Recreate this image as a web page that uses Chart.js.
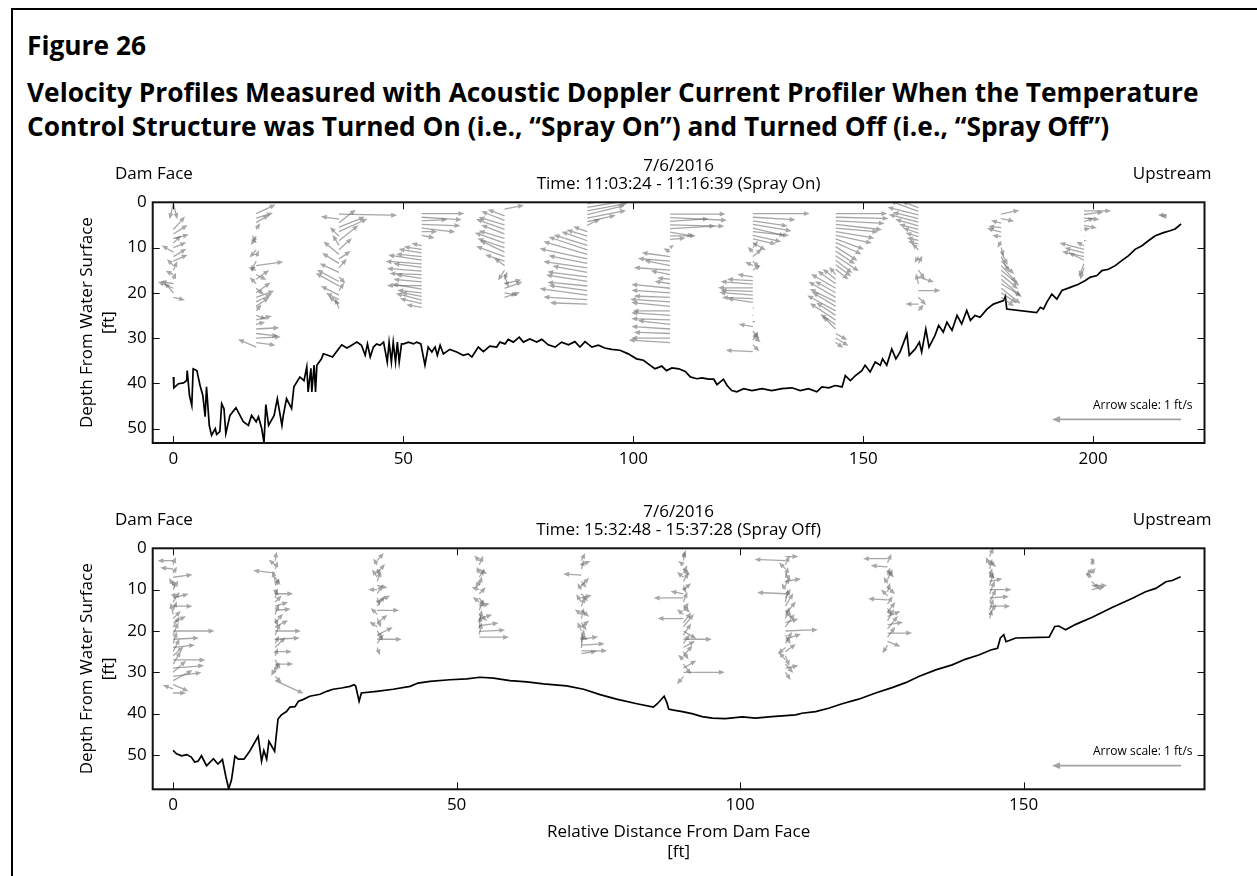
<!DOCTYPE html>
<html>
<head>
<meta charset="utf-8">
<title>Figure 26</title>
<script src="https://cdn.jsdelivr.net/npm/chart.js@4.4.0/dist/chart.umd.min.js"></script>
<style>
    body { margin: 0; width: 1257px; height: 876px; background: #fff; overflow: hidden; font-family: 'Open Sans', sans-serif; color: #000; }
    #frame { position: absolute; left: 11px; top: 8px; width: 1300px; height: 900px; border-left: 2px solid #000; border-top: 2px solid #000; }
    .ttl { position: absolute; left: 27px; font-weight: bold; font-size: 26.3px; line-height: 26.3px; white-space: nowrap; }
    canvas { position: absolute; left: 0; }
</style>
</head>
<body>
<div id="frame"></div>
<div class="ttl" style="top:32px">Figure 26</div>
<div class="ttl" style="top:79px">Velocity Profiles Measured with Acoustic Doppler Current Profiler When the Temperature</div>
<div class="ttl" style="top:113px">Control Structure was Turned On (i.e., “Spray On”) and Turned Off (i.e., “Spray Off”)</div>
<canvas id="sprayOn" width="1257" height="340" style="top:140px"></canvas>
<canvas id="sprayOff" width="1257" height="396" style="top:480px"></canvas>
<script>
// ---- 上图：Spray On，河床深度剖面 ----
const onBedX = [0, 0.1, 1.1, 2.2, 2.9, 3.0, 3.5, 4.0, 4.3, 5.1, 5.8, 6.4, 6.9, 7.2, 7.8, 8.3, 9.1, 9.4, 10.1, 10.5,
    11.0, 11.4, 12.3, 13.6, 15.2, 16.3, 17.0, 18.0, 18.5, 19.2, 19.7, 20.1, 20.7, 21.9, 22.6, 23.6, 23.9, 24.6, 25.7, 26.2,
    27.5, 28.4, 29.0, 29.3, 29.9, 30.1, 30.6, 30.9, 31.2, 32.2, 32.6, 33.3, 34.6, 35.9, 36.6, 37.7, 38.4, 39.9, 40.9, 41.7,
    42.2, 42.8, 43.5, 44.2, 44.9, 45.7, 46.5, 46.9, 47.4, 47.8, 48.3, 48.7, 49.1, 49.6, 50.1, 51.1, 52.2, 52.9, 53.8, 54.7,
    55.4, 56.2, 56.9, 57.4, 58.0, 58.7, 60.1, 61.6, 63.0, 64.1, 64.9, 66.3, 67.4, 68.8, 70.3, 71.0, 72.1, 72.8, 73.9, 75.2,
    76.1, 77.5, 79.0, 80.1, 81.5, 83.0, 84.4, 85.9, 87.3, 88.4, 89.5, 91.0, 92.4, 93.8, 95.3, 97.1, 98.9, 100.7, 102.2, 103.6,
    104.7, 106.2, 107.2, 108.4, 109.9, 111.3, 112.4, 113.8, 114.9, 116.4, 117.5, 118.2, 119.6, 120.4, 121.4, 122.5, 124.0, 125.8, 128.0, 130.1,
    132.3, 134.5, 136.3, 138.1, 139.9, 141.0, 142.5, 143.9, 145.4, 146.1, 147.2, 148.3, 149.7, 150.4, 151.5, 152.6, 153.7, 154.2, 155.1, 156.2,
    157.1, 158.0, 159.5, 160.0, 161.3, 162.2, 162.7, 163.6, 164.3, 165.6, 166.4, 167.4, 168.2, 169.3, 170.4, 171.4, 172.5, 173.3, 174.3, 175.4,
    176.9, 178.3, 180.5, 180.9, 181.2, 187.7, 188.5, 189.2, 189.9, 191.0, 192.1, 193.2, 195.0, 196.8, 198.3, 199.3, 200.8, 201.9, 203.3, 204.8,
    206.2, 207.7, 209.1, 210.6, 212.0, 213.5, 215.3, 216.7, 217.8, 219.1];
const onBedDepth = [38.6, 41.0, 40.1, 39.9, 39.4, 37.2, 42.7, 44.9, 36.8, 37.2, 40.5, 42.7, 47.4, 40.8, 49.3, 51.5, 50.0, 51.3, 50.7, 44.5,
    45.6, 51.1, 47.1, 45.4, 48.5, 49.3, 47.1, 48.5, 47.4, 50.0, 53.1, 44.7, 49.3, 47.1, 43.4, 49.3, 47.1, 43.4, 45.6, 40.8,
    38.6, 39.4, 36.4, 41.9, 36.7, 41.9, 36.0, 41.9, 36.0, 34.6, 33.5, 33.7, 34.2, 32.4, 31.5, 32.2, 31.8, 30.9, 31.6, 33.8,
    31.3, 34.2, 32.0, 31.3, 31.6, 30.9, 35.3, 30.9, 35.3, 30.9, 35.3, 30.9, 35.3, 31.3, 31.3, 30.9, 31.3, 30.9, 31.3, 36.0,
    32.0, 33.1, 32.0, 33.8, 31.6, 33.5, 32.5, 33.1, 33.8, 33.5, 34.2, 32.0, 33.0, 31.8, 32.0, 30.9, 31.3, 30.3, 30.9, 29.8,
    30.9, 30.2, 30.9, 30.3, 31.5, 32.0, 30.9, 31.5, 30.8, 32.0, 30.8, 32.0, 31.6, 32.2, 32.5, 32.7, 33.5, 34.6, 34.9, 36.0,
    36.8, 36.2, 37.2, 36.6, 36.8, 37.4, 38.6, 39.0, 38.8, 39.1, 39.1, 40.3, 39.1, 40.5, 41.6, 41.9, 41.2, 41.6, 41.2, 41.6,
    41.2, 41.0, 41.6, 41.2, 41.9, 40.8, 41.0, 40.5, 40.8, 38.3, 39.4, 38.3, 37.2, 36.0, 37.5, 35.3, 36.0, 34.6, 36.0, 32.4,
    34.6, 33.1, 29.1, 33.8, 32.4, 30.9, 33.1, 28.0, 32.0, 29.4, 27.2, 28.7, 26.5, 28.3, 25.0, 26.9, 23.9, 26.1, 25.0, 25.4,
    23.6, 22.5, 21.7, 20.8, 23.6, 24.4, 23.2, 23.6, 22.1, 20.3, 21.4, 19.5, 18.8, 18.1, 17.3, 16.6, 16.2, 15.1, 14.8, 14.0,
    12.9, 11.8, 10.4, 9.6, 8.5, 7.4, 6.7, 6.3, 5.9, 4.8];

// ---- 下图：Spray Off，河床深度剖面 ----
const offBedX = [0, 0.6, 1.5, 2.4, 3.2, 3.8, 4.4, 5.0, 5.9, 7.1, 7.9, 8.7, 9.3, 9.8, 10.3, 10.9, 11.5, 12.5, 13.5, 15.0,
    15.6, 16.0, 16.5, 16.9, 17.9, 18.5, 19.1, 20.0, 20.6, 21.5, 22.1, 22.9, 24.1, 25.9, 27.1, 28.2, 29.7, 31.2, 31.9, 32.2,
    32.8, 33.2, 35.9, 38.8, 41.8, 43.2, 45.3, 48.8, 51.8, 54.1, 56.5, 59.4, 62.4, 65.3, 69.4, 72.4, 75.3, 78.2, 81.8, 84.7,
    85.4, 86.6, 87.1, 87.4, 88.0, 89.8, 91.5, 93.3, 95.1, 97.4, 100.4, 102.7, 105.6, 109.8, 110.9, 113.3, 115.6, 118.0, 120.9, 123.9,
    126.8, 129.2, 131.5, 134.5, 137.4, 139.8, 142.1, 144.2, 145.4, 145.9, 146.5, 146.9, 148.6, 154.5, 155.5, 156.2, 157.4, 159.2, 162.1, 165.6,
    169.2, 171.5, 173.3, 175.1, 176.2, 177.7];
const offBedDepth = [48.9, 49.7, 50.2, 49.9, 50.5, 51.7, 51.5, 50.2, 52.6, 50.9, 52.2, 51.1, 55.2, 58.2, 56.0, 50.3, 51.0, 51.0, 49.1, 45.5,
    51.5, 48.9, 51.0, 46.7, 49.1, 41.3, 40.3, 39.5, 38.4, 38.3, 37.0, 36.6, 35.8, 35.3, 34.6, 34.1, 33.8, 33.4, 33.0, 33.3,
    37.0, 35.0, 34.6, 34.1, 33.4, 32.6, 32.2, 31.8, 31.6, 31.2, 31.4, 32.0, 32.3, 32.8, 33.3, 34.1, 35.4, 36.5, 37.6, 38.4,
    37.6, 35.8, 37.4, 38.9, 39.1, 39.5, 40.0, 40.7, 41.1, 41.2, 40.8, 41.1, 40.7, 40.3, 39.9, 39.5, 38.7, 37.6, 36.5, 35.0,
    33.7, 32.5, 31.0, 29.4, 28.2, 26.8, 25.8, 24.6, 24.2, 21.7, 20.9, 22.6, 21.7, 21.5, 18.9, 18.8, 19.7, 18.4, 16.7, 14.3,
    12.1, 10.5, 9.7, 8.1, 7.8, 6.9];

// ---- 流速矢量（ft/s）：u 为水平分量，w 为竖直分量（向上为正）----
const onColX = [0, 18, 36, 54, 72, 90, 108, 126, 144, 162, 180, 198, 216];
const onArrowDepth = [
    [0.3, 0.3, 6, 7, 8, 9, 10, 11, 12, 13, 14, 15, 16, 17, 18, 19, 20, 21],
    [2.5, 3.5, 4.5, 6, 7.5, 9, 10.5, 12, 13, 14, 15, 16, 17, 18, 19, 20, 21, 22, 23, 24, 25, 26, 27, 28, 29, 30, 31, 32],
    [2.6, 3.7, 4.5, 5.5, 6.5, 7.5, 8.5, 9.5, 10.5, 11.5, 12.5, 13.5, 14.5, 15.5, 16.5, 17.5, 18.5, 19.5, 20.5, 21.5, 22.5, 23.5],
    [2.5, 3.3, 4.1, 4.9, 5.7, 6.5, 7.3, 9.6, 10.4, 11.2, 12, 12.8, 13.6, 14.4, 15.2, 16, 16.8, 17.6, 18.4, 19.2, 20, 20.8, 21.6, 22.4, 23.2],
    [1.5, 3, 4, 5, 6, 7, 8, 9, 10, 11, 12, 13, 14, 15, 16, 17, 18, 19, 20, 21],
    [0.3, 1.1, 1.9, 2.7, 3.5, 4.3, 5.1, 6.5, 7.5, 8.5, 9.5, 10.5, 11.5, 12.5, 13.5, 14.5, 15.5, 16.5, 17.5, 18.5, 19.5, 20.5, 21.5, 22.5],
    [2.6, 3.4, 4.2, 5, 5.8, 6.6, 7.4, 8.2, 10, 11, 12, 13, 14, 15, 16, 17, 18, 19, 20, 21, 22, 23, 24, 25, 26, 27, 28, 29, 30, 31],
    [2.5, 3.3, 4.1, 4.9, 5.7, 6.5, 7.3, 8.1, 8.9, 10, 11, 12, 13, 14, 15, 16.5, 17.3, 18.1, 18.9, 19.7, 20.5, 21.3, 22.1, 23.5, 25, 26.5, 27.5, 28.5, 29.5, 30.5, 31.5, 33],
    [2.5, 3.3, 4.1, 4.9, 5.7, 6.5, 7.3, 8.1, 8.9, 9.8, 10.8, 11.8, 12.8, 13.8, 14.8, 16, 17, 18, 19, 20, 21, 22, 23, 24, 25, 26, 27, 28, 29, 30, 31],
    [1.2, 2, 2.8, 3.6, 4.4, 5.2, 6, 6.8, 7.6, 8.4, 9.2, 10.5, 12, 13.5, 15, 16.5, 18, 19.5, 21, 22.5, 24],
    [2.6, 3.6, 4.6, 5.6, 6.6, 7.6, 8.6, 10, 11, 12, 13, 14, 15, 16, 17, 18, 19, 20, 21],
    [1.9, 2.7, 3.5, 4.3, 5.1, 6, 7.5, 8.5, 9.6, 10.4, 11.2, 12, 12.8, 13.6, 14.5],
    [2.8, 3.2]
];
const onArrowU = [
    [0.03, -0.03, 0.09, 0.11, 0.12, 0.06, 0.1, -0.09, 0.1, 0.11, -0.05, 0.03, -0.06, 0.02, -0.1, -0.12, -0.07, 0.09],
    [0.15, 0.13, 0.1, 0.03, -0.04, -0.03, -0.05, 0.02, -0.04, 0.21, -0.06, 0.08, 0.1, -0.05, 0.06, 0.11, 0.14, 0.12, 0.1, 0.04, 0.08, 0.12, 0.07, 0.18, 0.17, 0.19, 0.15, -0.14],
    [0.45, -0.14, 0.13, 0.2, 0.22, -0.07, 0.15, -0.05, 0.1, -0.12, 0.09, -0.13, 0.06, -0.15, 0.05, -0.17, -0.18, 0.04, -0.14, -0.1, -0.08, -0.03],
    [0.33, 0.31, 0.2, 0.3, 0.26, 0.12, 0.1, -0.08, -0.14, -0.18, -0.2, -0.26, -0.28, -0.22, -0.27, -0.25, -0.2, -0.22, -0.27, -0.23, -0.19, -0.16, -0.2, -0.17, -0.12],
    [0.15, -0.13, -0.18, -0.2, -0.22, -0.18, -0.2, -0.23, -0.21, -0.19, -0.22, -0.15, -0.08, -0.05, 0.03, 0.02, 0.13, 0.14, 0.1, 0.12],
    [0.31, 0.3, 0.31, 0.29, 0.3, 0.22, 0.1, -0.11, -0.16, -0.2, -0.26, -0.3, -0.34, -0.37, -0.3, -0.34, -0.27, -0.31, -0.32, -0.31, -0.3, -0.37, -0.34, -0.29],
    [0.43, 0.44, 0.3, 0.42, 0.35, 0.18, 0.2, 0.12, 0.03, -0.05, -0.22, -0.25, -0.2, -0.28, -0.15, -0.1, -0.12, -0.3, -0.3, -0.28, -0.31, -0.3, -0.29, -0.3, -0.3, -0.25, -0.3, -0.28, -0.3, -0.32],
    [0.44, 0.33, 0.27, 0.3, 0.25, 0.28, 0.22, 0.18, 0.1, 0.04, -0.04, 0.07, 0.05, -0.06, 0.06, -0.12, -0.2, -0.25, -0.27, -0.25, -0.26, -0.24, -0.2, 0.01, -0.01, 0.02, -0.11, 0.05, 0.06, 0.04, 0.05, -0.21],
    [0.4, 0.41, 0.38, 0.36, 0.33, 0.3, 0.28, 0.22, 0.2, 0.17, 0.15, 0.18, 0.13, 0.12, 0.1, -0.05, -0.1, -0.14, -0.19, -0.16, -0.21, -0.2, -0.18, -0.22, -0.15, -0.2, -0.12, -0.1, 0.09, 0.1, 0.06],
    [-0.13, -0.22, -0.24, -0.2, -0.23, -0.18, -0.15, -0.12, -0.1, -0.09, -0.08, -0.05, -0.03, 0.03, 0.05, 0.12, -0.02, 0.17, 0.06, -0.1, 0.04],
    [0.14, 0.1, -0.08, -0.1, -0.11, -0.07, -0.03, 0.02, 0.05, 0.06, 0.1, 0.12, 0.14, 0.13, 0.15, 0.16, 0.15, 0.12, 0.1],
    [0.21, 0.15, 0.12, 0.08, 0.1, 0.05, 0.01, 0.02, -0.06, -0.19, -0.15, -0.17, -0.12, -0.04, -0.03],
    [-0.07, -0.05]
];
const onArrowW = [
    [-0.12, -0.12, 0.1, 0.07, 0.03, 0.06, 0.04, 0.05, 0.06, 0.05, 0.05, 0.07, 0.03, 0.05, 0.02, 0.05, 0.08, -0.02],
    [0.07, 0.04, 0.06, 0.05, -0.07, 0.06, -0.06, 0.05, -0.08, 0.03, 0.02, -0.04, 0.07, 0.05, -0.05, 0.08, 0.05, 0.06, 0.07, 0.05, -0.03, 0.03, 0.02, 0.01, -0.02, 0.01, -0.02, 0.06],
    [-0.01, 0.02, 0.1, 0.08, 0.1, 0.07, 0.12, 0.08, 0.09, 0.1, 0.06, 0.08, 0.07, 0.07, -0.05, 0.09, 0.1, 0.06, 0.07, 0.05, 0.06, 0.08],
    [0, -0.02, 0.01, -0.01, -0.03, 0, -0.02, 0.02, 0.02, 0.03, 0.02, 0.04, 0.02, 0.03, 0.02, 0.01, 0.03, 0.02, 0, 0.04, 0.02, 0.03, 0.05, 0.04, 0.02],
    [0.03, 0.05, 0.07, 0.06, 0.08, 0.07, 0.06, 0.08, 0.07, 0.09, 0.08, 0.05, 0.06, -0.08, -0.1, 0.06, 0.03, 0.05, -0.02, 0.04],
    [0.05, 0.05, 0.06, 0.07, 0.06, 0.05, 0.05, 0.04, 0.05, 0.07, 0.08, 0.1, 0.1, 0.08, 0.06, 0.05, 0.05, 0.04, 0.05, 0.03, 0.04, 0.05, 0.02, 0.01],
    [0, -0.02, 0.02, -0.01, 0.02, -0.03, 0, 0.01, 0.02, 0.03, 0.03, 0.02, 0.04, 0.02, 0.03, 0.01, 0.02, 0.03, 0.02, 0.01, 0.02, 0.03, 0, 0.02, 0.01, 0.03, 0.02, 0.01, 0, 0.02],
    [0, -0.02, -0.04, -0.05, -0.06, -0.03, -0.05, -0.04, -0.06, 0.05, 0.04, 0.06, -0.05, 0.03, 0.04, 0.02, 0.01, 0.02, 0, 0.01, 0.02, 0.01, 0.03, 0.01, 0, 0.01, 0.02, -0.06, -0.05, 0.07, -0.05, 0.01],
    [0, -0.01, -0.02, -0.04, -0.03, -0.05, -0.06, -0.08, -0.09, -0.11, -0.1, -0.12, -0.1, -0.09, -0.08, 0.06, 0.08, 0.1, 0.11, 0.09, 0.12, 0.1, 0.11, 0.12, 0.1, 0.13, 0.08, 0.1, -0.05, -0.06, -0.04],
    [0.05, 0.08, 0.06, 0.05, 0.06, 0.05, 0.04, 0.04, 0.03, 0.02, 0.02, 0.05, -0.05, 0.06, -0.07, -0.04, 0.08, 0, -0.06, 0, 0.05],
    [0.03, -0.02, 0.02, 0.01, 0.03, 0.01, -0.05, -0.07, -0.1, -0.12, -0.1, -0.13, -0.12, -0.11, -0.13, -0.1, -0.12, -0.08, -0.07],
    [0, 0.02, -0.01, 0.03, -0.02, 0.01, 0, 0, 0.03, 0.05, 0.04, 0.04, 0.06, -0.1, -0.09],
    [0, 0.01]
];

const offColX = [0, 18, 36, 54, 72, 90, 108, 126, 144, 162];
const offArrowDepth = [
    [3, 4, 5, 6, 7, 8, 9, 10, 11, 12, 13, 14, 15, 16, 17, 18, 19, 20, 21, 22, 23, 24, 25, 26, 27, 28, 29, 30, 31, 32, 33, 34, 35],
    [3, 4, 5, 6, 7, 8, 9, 10, 11, 12, 13, 14, 15, 16, 17, 18, 19, 20, 21, 22, 23, 24, 25, 26, 27, 28, 29, 30, 31, 32],
    [3, 4, 5, 6, 7, 8, 9, 10, 11, 12, 13, 14, 15, 16, 17, 18, 19, 20, 21, 22, 23, 24],
    [3, 4, 5, 6, 7, 8, 9, 10, 11, 12, 13, 14, 15, 16, 17, 18, 18.7, 19.4, 20.1, 20.8, 21.5],
    [3, 4, 5, 6.5, 8, 9, 10, 11, 12, 13, 14, 15, 16, 17, 18, 19, 20, 21, 22, 22.7, 23.4, 24.1, 24.8, 25.5],
    [2, 3, 4, 5, 6, 7, 8, 9, 10, 11, 12, 13, 14, 15, 16, 17, 18, 19, 20, 21, 22, 23, 24, 25, 26, 27, 28, 29, 30, 31],
    [2, 3, 4, 5, 6, 7, 8, 9, 10, 11, 12, 13, 14, 15, 16, 17, 18, 19, 20, 21, 22, 23, 24, 25, 26, 27, 28, 29, 30],
    [2.5, 3.5, 4.5, 5.5, 6.5, 7.5, 8.5, 9.5, 10.5, 11.5, 12.5, 13.5, 14.5, 15.5, 16.5, 17.5, 18.5, 19.5, 20.5, 21.5, 22.5, 23.5],
    [2, 3, 4, 5, 6, 7, 8, 9, 10, 11, 12, 13, 14, 15, 16, 17],
    [2.5, 4, 5, 6, 7, 8, 9, 10]
];
const offArrowU = [
    [-0.12, 0.02, -0.1, 0.03, 0.15, 0.01, -0.03, 0.04, 0.02, 0.12, 0.05, 0.15, 0.03, -0.02, 0.06, 0.1, 0.05, 0.32, 0.04, 0.2, 0.03, 0.17, 0.05, 0.08, 0.25, 0.06, 0.24, 0.1, 0.22, 0.15, 0.12, -0.08, 0.1],
    [0.01, -0.05, 0.02, -0.17, 0.04, -0.02, 0.03, 0.01, 0.14, 0.02, 0.05, 0.1, 0.12, 0.03, 0.02, 0.06, 0.1, 0.2, 0.04, 0.19, 0.03, 0.08, 0.13, 0.02, 0.04, 0.14, -0.03, 0.02, 0.05, 0.22],
    [0.05, -0.03, 0.02, 0.06, -0.04, 0.03, 0.08, -0.07, 0.04, 0.02, 0.1, 0.06, 0.17, -0.05, 0.03, 0.08, -0.06, 0.04, 0.12, 0.19, 0.05, 0.02],
    [-0.04, 0.03, 0.06, -0.02, 0.04, -0.03, 0.02, -0.06, 0.05, 0.04, -0.05, 0.08, 0.03, 0.06, 0.1, 0.02, 0.15, 0.01, 0.2, 0.02, 0.23],
    [0.03, 0.07, 0.02, -0.14, 0.04, 0.06, -0.03, 0.05, 0.08, -0.04, 0.03, 0.06, -0.05, 0.02, 0.04, 0.06, -0.03, 0.05, 0.13, 0.02, 0.18, 0.01, 0.2, 0.12],
    [0.02, 0.01, -0.04, 0.05, 0.03, -0.05, 0.04, 0.02, 0.06, -0.1, -0.23, 0.03, 0.05, 0.04, -0.05, -0.2, 0.06, 0.08, 0.1, 0.06, 0.22, 0.05, 0.09, 0.04, 0.07, -0.04, 0.06, 0.1, 0.32, -0.05],
    [0.1, -0.24, 0.03, -0.05, 0.04, 0.02, 0.12, 0.03, -0.03, -0.22, 0.04, 0.02, 0.06, 0.05, 0.08, 0.03, 0.1, 0.07, 0.25, 0.04, 0.12, 0.05, -0.06, 0.08, 0.03, -0.05, 0.06, 0.1, 0.04],
    [-0.19, 0.03, -0.13, 0.05, 0.02, 0.04, -0.03, 0.06, 0.02, -0.05, -0.15, 0.04, 0.03, 0.06, 0.1, 0.05, 0.12, 0.08, 0.19, 0.06, 0.1, -0.04],
    [0.03, 0.05, -0.03, 0.02, 0.04, 0.02, 0.1, 0.03, 0.17, 0.04, 0.15, 0.05, 0.16, 0.03, 0.05, 0.02],
    [0.01, 0.02, -0.04, 0.03, -0.05, 0.06, 0.12, 0.1]
];
const offArrowW = [
    [0, 0.06, 0.01, 0.05, 0.02, -0.05, 0.06, 0.07, -0.04, 0.03, 0.08, 0, 0.07, 0.09, 0.06, 0.05, 0.08, 0, 0.1, 0.01, 0.09, 0.02, 0.1, 0.07, 0, 0.1, 0.02, 0.09, 0.03, 0.08, -0.05, 0.03, 0],
    [0.07, 0.04, 0.06, 0.02, -0.06, 0.08, 0.05, -0.04, 0, 0.07, 0.05, 0.03, 0.01, 0.08, -0.06, 0.07, 0.05, 0, 0.09, 0.01, 0.06, 0.08, 0, 0.06, -0.07, 0, -0.06, 0.07, -0.05, -0.1],
    [0.06, 0.05, -0.05, 0.07, 0.06, 0.08, -0.02, 0, 0.07, -0.06, 0.05, 0.08, 0, 0.05, -0.07, 0.06, 0.04, -0.06, 0.06, 0, 0.07, -0.06],
    [0.04, 0.07, -0.04, 0.05, 0.06, -0.05, 0.07, 0.02, 0.05, -0.06, 0.04, 0.02, 0.08, -0.05, 0.03, 0.1, 0.02, 0.1, 0.01, 0.09, 0],
    [0.06, 0.03, 0.07, 0.01, -0.05, 0.06, 0.05, -0.06, 0.02, 0.06, 0.07, -0.05, 0.04, 0.08, -0.06, 0.05, 0.07, -0.04, 0.02, 0.1, 0.01, 0.11, 0, 0.02],
    [0.05, 0.07, 0.03, -0.05, 0.06, 0.04, 0.07, -0.06, 0.05, 0.02, 0, 0.08, -0.05, 0.06, 0.04, 0, 0.08, 0.1, -0.06, 0.09, 0, 0.07, 0.05, -0.06, 0.08, 0.04, -0.08, 0.06, 0, -0.06],
    [0, 0.01, 0.07, 0.05, -0.06, 0.08, 0.02, 0.06, 0.05, 0.01, 0.07, 0.1, 0.1, -0.06, 0.1, 0.09, 0.03, 0.1, 0.01, -0.07, 0.04, 0.09, -0.05, 0.06, -0.08, 0.06, -0.07, 0.02, -0.06],
    [0, 0.07, 0.01, -0.05, 0.06, 0.08, 0.05, -0.05, 0.07, 0.05, 0.01, 0.06, -0.06, 0.08, 0.04, 0.09, 0.02, 0.1, 0, 0.08, -0.04, -0.06],
    [0.07, -0.05, 0.06, 0.08, -0.04, 0.07, 0.02, 0.1, 0, 0.1, 0.01, 0.1, 0, 0.09, 0.08, 0.07],
    [-0.03, 0.05, -0.05, 0.04, 0.03, -0.06, 0, 0.02]
];

// 坐标轴刻度
const onXTicks = [0, 50, 100, 150, 200];
const offXTicks = [0, 50, 100, 150];
const depthTicks = [0, 10, 20, 30, 40, 50];
const keySpeed = 1; // 图例箭头代表 1 ft/s

// 样式
const FONT = "'Open Sans', sans-serif";
const QUIVER_SCALE = 8.15;          // 每个绘图区宽度对应的 ft/s
const ARROW_COLOR = 'rgba(95, 95, 95, 0.55)';
const KEY_COLOR = 'rgba(140, 140, 140, 0.8)';

// 把每一列的矢量整理成 {x, y, u, w}
function arrowPoints(cols, depths, us, ws) {
    const pts = [];
    cols.forEach((x, i) => {
        depths[i].forEach((d, j) => pts.push({ x: x, y: d, u: us[i][j], w: ws[i][j] }));
    });
    return pts;
}

function drawArrow(ctx, x0, y0, x1, y1, shaft) {
    const dx = x1 - x0, dy = y1 - y0;
    const len = Math.hypot(dx, dy);
    if (len < 0.6) {
        ctx.beginPath();
        ctx.arc(x0, y0, 0.7, 0, Math.PI * 2);
        ctx.fill();
        return;
    }
    const ux = dx / len, uy = dy / len, nx = -uy, ny = ux;
    const hl = Math.min(shaft * 4.5, len);
    const hw = shaft * 1.9 * hl / (shaft * 4.5);
    const sw = shaft / 2;
    const bx = x1 - ux * hl, by = y1 - uy * hl;
    ctx.beginPath();
    ctx.moveTo(x0 + nx * sw, y0 + ny * sw);
    ctx.lineTo(bx + nx * sw, by + ny * sw);
    ctx.lineTo(bx + nx * hw, by + ny * hw);
    ctx.lineTo(x1, y1);
    ctx.lineTo(bx - nx * hw, by - ny * hw);
    ctx.lineTo(bx - nx * sw, by - ny * sw);
    ctx.lineTo(x0 - nx * sw, y0 - ny * sw);
    ctx.closePath();
    ctx.fill();
}

// 画矢量箭头
const quiverPlugin = {
    id: 'quiver',
    afterDatasetsDraw(chart) {
        const ctx = chart.ctx;
        const area = chart.chartArea;
        const pxPerSpeed = area.width / QUIVER_SCALE;
        ctx.save();
        ctx.beginPath();
        ctx.rect(area.left, area.top, area.width, area.height);
        ctx.clip();
        ctx.fillStyle = ARROW_COLOR;
        chart.data.datasets.forEach((ds, i) => {
            if (!ds.quiver) return;
            chart.getDatasetMeta(i).data.forEach((pt, j) => {
                const v = ds.data[j];
                drawArrow(ctx, pt.x, pt.y, pt.x + v.u * pxPerSpeed, pt.y - v.w * pxPerSpeed, 1.3);
            });
        });
        ctx.restore();
    }
};

// 边框、朝内的刻度、标题文字和图例箭头
const framePlugin = {
    id: 'frame',
    afterDraw(chart, args, opts) {
        const ctx = chart.ctx;
        const a = chart.chartArea;
        const xs = chart.scales.x, ys = chart.scales.y;
        ctx.save();
        ctx.strokeStyle = '#111';
        ctx.lineWidth = 1;
        ctx.beginPath();
        opts.xTicks.forEach(v => {
            const px = Math.round(xs.getPixelForValue(v)) + 0.5;
            ctx.moveTo(px, a.bottom); ctx.lineTo(px, a.bottom - 7);
            ctx.moveTo(px, a.top); ctx.lineTo(px, a.top + 7);
        });
        depthTicks.forEach(v => {
            const py = Math.round(ys.getPixelForValue(v)) + 0.5;
            ctx.moveTo(a.left, py); ctx.lineTo(a.left + 7, py);
            ctx.moveTo(a.right, py); ctx.lineTo(a.right - 7, py);
        });
        ctx.stroke();
        ctx.lineWidth = 2;
        ctx.strokeRect(a.left, a.top, a.right - a.left, a.bottom - a.top);

        ctx.fillStyle = '#000';
        ctx.textBaseline = 'middle';
        ctx.font = '17px ' + FONT;
        ctx.textAlign = 'left';
        ctx.fillText('Dam Face', 115, a.top - 28);
        ctx.textAlign = 'right';
        ctx.fillText('Upstream', a.right + 7, a.top - 28);
        ctx.textAlign = 'center';
        const cx = (a.left + a.right) / 2;
        ctx.fillText('7/6/2016', cx, a.top - 36);
        ctx.fillText(opts.time, cx, a.top - 18);

        // 图例：Arrow scale
        const tailX = a.left + 0.9777 * a.width;
        const keyY = a.top + 0.902 * a.height;
        ctx.fillStyle = KEY_COLOR;
        drawArrow(ctx, tailX, keyY, tailX - keySpeed * a.width / QUIVER_SCALE, keyY, 1.8);
        ctx.fillStyle = '#000';
        ctx.font = '12px ' + FONT;
        ctx.textAlign = 'right';
        ctx.fillText('Arrow scale: ' + keySpeed + ' ft/s', a.right - 12, keyY - 14);
        ctx.restore();
    }
};

function makePanel(id, cfg) {
    new Chart(document.getElementById(id), {
        type: 'scatter',
        data: {
            datasets: [
                {
                    data: cfg.bedX.map((x, i) => ({ x: x, y: cfg.bedDepth[i] })),
                    showLine: true,
                    borderColor: '#000',
                    borderWidth: 1.7,
                    pointRadius: 0,
                    tension: 0
                },
                {
                    data: cfg.arrows,
                    quiver: true,
                    pointRadius: 0,
                    showLine: false
                }
            ]
        },
        options: {
            responsive: false,
            animation: false,
            events: [],
            layout: { padding: { left: 0, right: 52.5, top: cfg.padTop, bottom: 0 } },
            plugins: {
                legend: { display: false },
                tooltip: { enabled: false },
                frame: { xTicks: cfg.xTicks, time: cfg.time }
            },
            scales: {
                x: {
                    type: 'linear',
                    min: cfg.xMin,
                    max: cfg.xMax,
                    grid: { display: false, drawTicks: false },
                    border: { display: false },
                    afterBuildTicks: s => { s.ticks = cfg.xTicks.map(v => ({ value: v })); },
                    afterFit: s => { s.height = cfg.xAxisHeight; },
                    ticks: { color: '#000', font: { family: FONT, size: 17 }, padding: 6, maxRotation: 0 },
                    title: {
                        display: cfg.xTitle,
                        text: ['Relative Distance From Dam Face', '[ft]'],
                        color: '#000',
                        font: { family: FONT, size: 17, lineHeight: 1.18 },
                        padding: { top: 0, bottom: 14 }
                    }
                },
                y: {
                    type: 'linear',
                    reverse: true,
                    min: 0,
                    max: cfg.yMax,
                    grid: { display: false, drawTicks: false },
                    border: { display: false },
                    afterBuildTicks: s => { s.ticks = depthTicks.map(v => ({ value: v })); },
                    afterFit: s => { s.width = 152.7; },
                    ticks: { color: '#000', font: { family: FONT, size: 17 }, padding: 6 },
                    title: {
                        display: true,
                        text: ['Depth From Water Surface', '[ft]'],
                        color: '#000',
                        font: { family: FONT, size: 17, lineHeight: 1.25 },
                        padding: { top: 77, bottom: 0 }
                    }
                }
            }
        },
        plugins: [quiverPlugin, framePlugin]
    });
}

makePanel('sprayOn', {
    bedX: onBedX, bedDepth: onBedDepth,
    arrows: arrowPoints(onColX, onArrowDepth, onArrowU, onArrowW),
    xTicks: onXTicks, xMin: -4.5, xMax: 224.2, yMax: 53.2,
    padTop: 62.3, xAxisHeight: 37, xTitle: false,
    time: 'Time: 11:03:24 - 11:16:39 (Spray On)'
});

makePanel('sprayOff', {
    bedX: offBedX, bedDepth: offBedDepth,
    arrows: arrowPoints(offColX, offArrowDepth, offArrowU, offArrowW),
    xTicks: offXTicks, xMin: -3.6, xMax: 181.9, yMax: 58.3,
    padTop: 68.3, xAxisHeight: 86.7, xTitle: true,
    time: 'Time: 15:32:48 - 15:37:28 (Spray Off)'
});
</script>
</body>
</html>
